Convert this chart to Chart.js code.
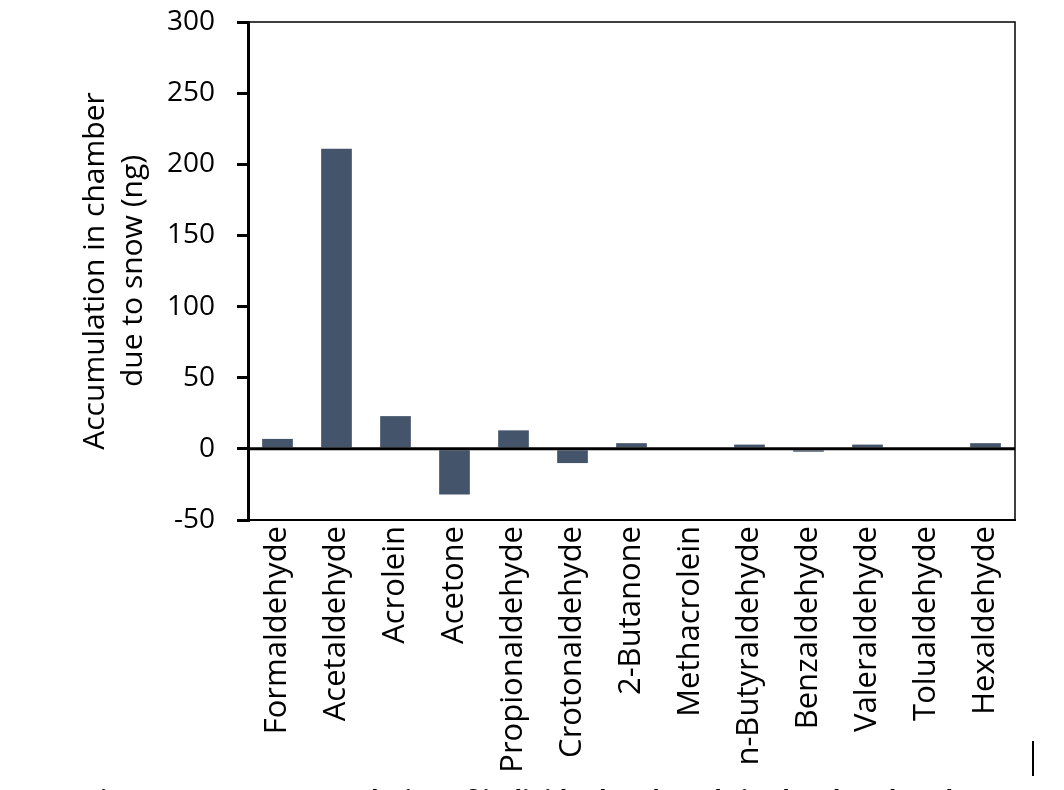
<!DOCTYPE html>
<html>
<head>
<meta charset="utf-8">
<script src="https://cdn.jsdelivr.net/npm/chart.js@4"></script>
<style>
  html, body { margin: 0; padding: 0; background: #fff; }
  #wrap { position: relative; width: 1064px; height: 790px; overflow: hidden; }
  #c { position: absolute; left: 0; top: 0; }
  #caption { position: absolute; left: 86px; top: 781px; font: bold 25px "Open Sans", sans-serif; color: #000; white-space: nowrap; }
  #cursor { position: absolute; left: 1032px; top: 741px; width: 2px; height: 35px; background: #000; }
</style>
</head>
<body>
<div id="wrap">
  <canvas id="c" width="1064" height="790"></canvas>
  <div id="caption">Figure S-3. Net accumulation of individual carbonyls in the chamber due to snow</div>
  <div id="cursor"></div>
</div>
<script>
const categories = ["Formaldehyde", "Acetaldehyde", "Acrolein", "Acetone", "Propionaldehyde", "Crotonaldehyde", "2-Butanone", "Methacrolein", "n-Butyraldehyde", "Benzaldehyde", "Valeraldehyde", "Tolualdehyde", "Hexaldehyde"];
const accumulation = [7, 211, 23, -32, 13, -10, 4, 0, 3, -2, 3, 0, 4];
const yTicks = [-50, 0, 50, 100, 150, 200, 250, 300];
const yTitle = ["Accumulation in chamber", "due to snow (ng)"];

const FONT = '"Open Sans", sans-serif';

const boxPlugin = {
  id: 'box',
  afterDatasetsDraw(chart) {
    const { ctx, chartArea: a } = chart;
    ctx.save();
    ctx.strokeStyle = '#000';
    ctx.lineWidth = 1.5;
    ctx.beginPath();
    ctx.moveTo(a.left, a.top);
    ctx.lineTo(a.right, a.top);
    ctx.lineTo(a.right, a.bottom);
    ctx.stroke();
    const y0 = chart.scales.y.getPixelForValue(0);
    ctx.lineWidth = 3;
    ctx.beginPath();
    ctx.moveTo(a.left, y0);
    ctx.lineTo(a.right, y0);
    ctx.stroke();
    ctx.restore();
  }
};

new Chart(document.getElementById('c'), {
  type: 'bar',
  data: {
    labels: categories,
    datasets: [{
      data: accumulation,
      backgroundColor: '#44546A',
      borderWidth: 0,
      barPercentage: 0.52,
      categoryPercentage: 1.0
    }]
  },
  options: {
    responsive: false,
    animation: false,
    devicePixelRatio: 1,
    layout: { padding: { top: 22, right: 49, left: 0, bottom: 0 } },
    plugins: {
      legend: { display: false },
      tooltip: { enabled: false }
    },
    scales: {
      x: {
        grid: { display: false, drawTicks: false },
        border: { display: true, color: '#000', width: 2 },
        ticks: {
          color: '#000',
          font: { family: FONT, size: 31 },
          minRotation: 90,
          maxRotation: 90,
          padding: 6,
          autoSkip: false
        },
        afterFit(scale) { scale.height = 270; }
      },
      y: {
        min: -50,
        max: 300,
        afterBuildTicks(scale) { scale.ticks = yTicks.map(v => ({ value: v })); },
        grid: {
          drawOnChartArea: false,
          drawTicks: true,
          tickLength: 11,
          tickColor: '#000',
          tickWidth: 3,
          lineWidth: 3,
          color: '#000'
        },
        border: { display: true, color: '#000', width: 3 },
        ticks: {
          color: '#000',
          font: { family: FONT, size: 28 },
          padding: 22,
          callback: v => String(v)
        },
        title: {
          display: true,
          text: yTitle,
          color: '#000',
          font: { family: FONT, size: 30, lineHeight: 1.27 },
          padding: { top: 76, bottom: 0 }
        },
        afterFit(scale) {
          scale.width = 248;
          scale.paddingTop = 0;
          scale.paddingBottom = 0;
        }
      }
    }
  },
  plugins: [boxPlugin]
});
</script>
</body>
</html>
